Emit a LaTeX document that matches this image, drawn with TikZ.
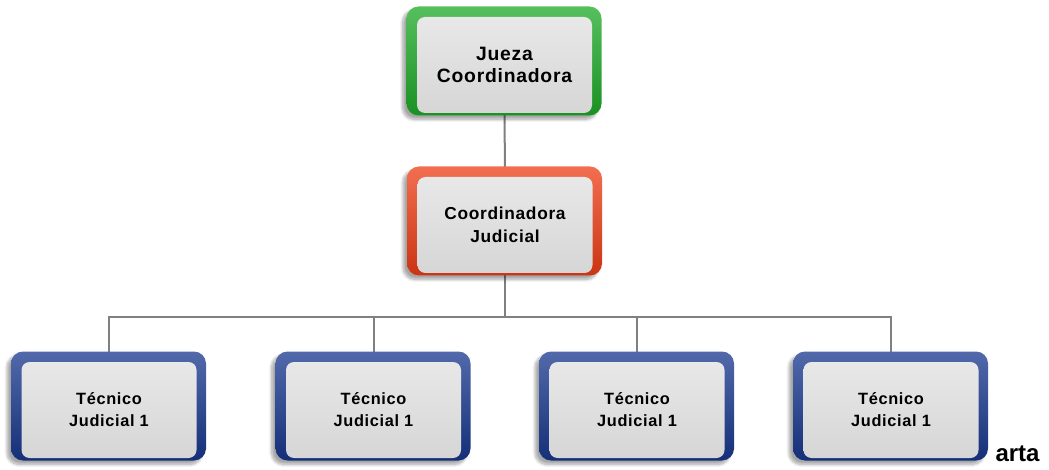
\documentclass[tikz,border=0pt]{standalone}
\usepackage{fontspec}
\setmainfont{Liberation Sans}
\newfontfamily\cajafont[LetterSpace=4]{Liberation Sans}
\usetikzlibrary{backgrounds,shadows.blur}

\definecolor{verde}{RGB}{30,170,40}
\definecolor{rojo}{RGB}{238,62,22}
\definecolor{azul}{RGB}{24,56,142}
\definecolor{grisclaro}{RGB}{232,232,232}
\definecolor{gris}{RGB}{214,214,214}
\definecolor{linea}{RGB}{128,128,128}

\tikzset{every picture/.style={line width=0.75pt}}
\tikzset{
  caja/.style={rounded corners=6pt, top color=grisclaro, bottom color=gris,
    minimum width=131.25pt, minimum height=72pt, align=center, inner sep=0pt},
  marco/.style={rounded corners=9pt,
    blur shadow={shadow xshift=-3pt, shadow yshift=-3pt, shadow opacity=35, shadow blur steps=8}},
  conector/.style={draw=linea, line width=1.5pt},
}

\begin{document}
\begin{tikzpicture}[x=0.75pt,y=0.75pt,yscale=-1,xscale=1]
\useasboundingbox (0,0) rectangle (1049,470);

% Text Node
\node [caja, font=\cajafont\bfseries\fontsize{14.5pt}{16.5pt}\selectfont] (jueza) at (504.5,65) {Jueza\\Coordinadora};
% Text Node
\node [caja, font=\cajafont\bfseries\fontsize{13pt}{17pt}\selectfont] (coord) at (505,225) {Coordinadora\\Judicial};
% Text Nodes
\foreach \x [count=\i] in {109,373.5,637,891}
  \node [caja, font=\cajafont\bfseries\fontsize{12.25pt}{16.5pt}\selectfont] (tec\i) at (\x,410) {Técnico\\Judicial 1};
% Text Node
\node [anchor=base west, inner sep=0pt, font=\bfseries\fontsize{18pt}{21pt}\selectfont] (arta) at (995,461) {arta};

\coordinate (bus) at (505,317);

\begin{scope}[on background layer]
%Straight Lines
\draw [conector] (jueza) -- (coord);
\draw [conector] (coord) -- (bus);
\foreach \i in {1,...,4}
  \draw [conector] (bus) -| (tec\i);
%Shape: Rounded Rect
\foreach \n/\c in {jueza/verde,coord/rojo,tec1/azul,tec2/azul,tec3/azul,tec4/azul}
  \path [marco, top color=\c!75!white, middle color=\c, bottom color=\c!85!black] ([shift={(-10,-10)}]\n.north west) rectangle ([shift={(9,2)}]\n.south east);
\end{scope}

\end{tikzpicture}
\end{document}
